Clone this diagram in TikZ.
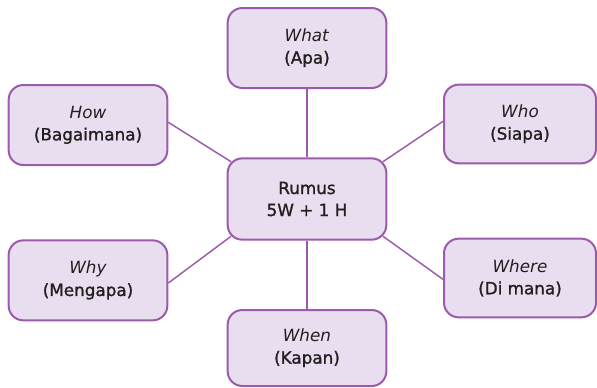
\documentclass[tikz,border=0pt]{standalone}
\usepackage{fontspec}
\setmainfont{DejaVu Sans}
\newfontfamily\heavysans[FakeBold=1.3]{DejaVu Sans}
\usetikzlibrary{positioning, calc}

\definecolor{rimpurple}{RGB}{156,91,170}
\definecolor{boxlilac}{RGB}{233,222,239}
\definecolor{inkgrey}{RGB}{35,31,32}

\newcommand{\wlabel}[2]{\textit{#1}\\{\heavysans #2}}

\begin{document}
\begin{tikzpicture}
    [
        on grid, font=\fontsize{12.6}{16.5}\selectfont,
        w_box/.style={rectangle, rounded corners=11pt, draw=rimpurple, fill=boxlilac, line width=1.5pt, minimum width=119pt, minimum height=60pt, align=center, text=inkgrey},
        narrow_box/.style={w_box, minimum width=114pt, minimum height=59pt},
        spoke/.style={draw=rimpurple, line width=1.1pt},
    ]
        \useasboundingbox (0,0) rectangle (447.75pt,-290.25pt);
        \node[w_box, minimum height=61pt] (rumus) at (230.25pt,-149.25pt) {\heavysans Rumus\\\heavysans 5W + 1 H} ;
        \node[w_box] (what) [above = 113.25pt of rumus] {\wlabel{What}{(Apa)}} ;
        \node[w_box, minimum height=57pt] (when) [below = 111.75pt of rumus] {\wlabel{When}{(Kapan)}} ;
        \node[w_box] (how) [above left = 55.5pt and 164.25pt of rumus] {\wlabel{How}{(Bagaimana)}} ;
        \node[w_box] (why) [below left = 61pt and 164.25pt of rumus] {\wlabel{Why}{(Mengapa)}} ;
        \node[narrow_box] (who) [above right = 56.25pt and 159.75pt of rumus] {\wlabel{Who}{(Siapa)}} ;
        \node[narrow_box] (where) [below right = 59.25pt and 159.75pt of rumus] {\wlabel{Where}{(Di mana)}} ;
        \draw[spoke] (what) -- (rumus) ;
        \draw[spoke] (when) -- (rumus) ;
        \draw[spoke] ([yshift=2pt]how.east) -- ($(rumus.north west)+(3.3pt,-3.3pt)$) ;
        \draw[spoke] ([yshift=2pt]who.west) -- ($(rumus.north east)+(-3.3pt,-3.3pt)$) ;
        \draw[spoke] ([yshift=-2pt]why.east) -- ($(rumus.south west)+(3.3pt,3.3pt)$) ;
        \draw[spoke] ([yshift=-1pt]where.west) -- ($(rumus.south east)+(-3.3pt,3.3pt)$) ;
    \end{tikzpicture}
\end{document}
